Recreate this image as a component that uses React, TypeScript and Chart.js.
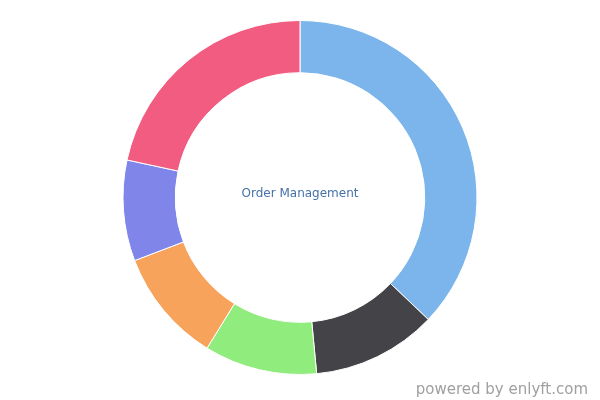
import React, { useEffect, useRef } from "react";
import { Chart, registerables } from "chart.js";

Chart.register(...registerables);

const categories = ["Segment 1", "Segment 2", "Segment 3", "Segment 4", "Segment 5", "Segment 6"];
const values = [37.1, 11.4, 10.3, 10.4, 9.2, 21.6];
const colors = ["#7cb5ec", "#434348", "#90ed7d", "#f7a35c", "#8085e9", "#f15c80"];
const centerLabel = "Order Management";
const watermark = "powered by enlyft.com";

export default function App() {
  const ref = useRef<HTMLCanvasElement | null>(null);

  useEffect(() => {
    document.body.style.margin = "0";
    const chart = new Chart(ref.current!, {
      type: "doughnut",
      data: {
        labels: categories,
        datasets: [
          {
            data: values,
            backgroundColor: colors,
            borderColor: "#ffffff",
            borderWidth: 1,
          },
        ],
      },
      options: {
        animation: false,
        responsive: false,
        cutout: "70.5%",
        layout: { padding: { top: 20, bottom: 25, left: 0, right: 0 } },
        plugins: {
          legend: { display: false },
          tooltip: { enabled: false },
        },
      },
    });
    return () => chart.destroy();
  }, []);

  return (
    <div style={{ position: "relative", width: 600, height: 400, background: "#fff" }}>
      <canvas ref={ref} width={600} height={400} style={{ display: "block" }} />
      <div
        style={{
          position: "absolute",
          left: 0,
          width: 600,
          top: 186,
          textAlign: "center",
          fontFamily: "DejaVu Sans",
          fontSize: 12,
          color: "#4572a7",
          lineHeight: "14px",
        }}
      >
        {centerLabel}
      </div>
      <div
        style={{
          position: "absolute",
          right: 12,
          top: 380,
          fontFamily: "DejaVu Sans",
          fontSize: 15,
          color: "#a0a0a0",
          lineHeight: "18px",
        }}
      >
        {watermark}
      </div>
    </div>
  );
}
